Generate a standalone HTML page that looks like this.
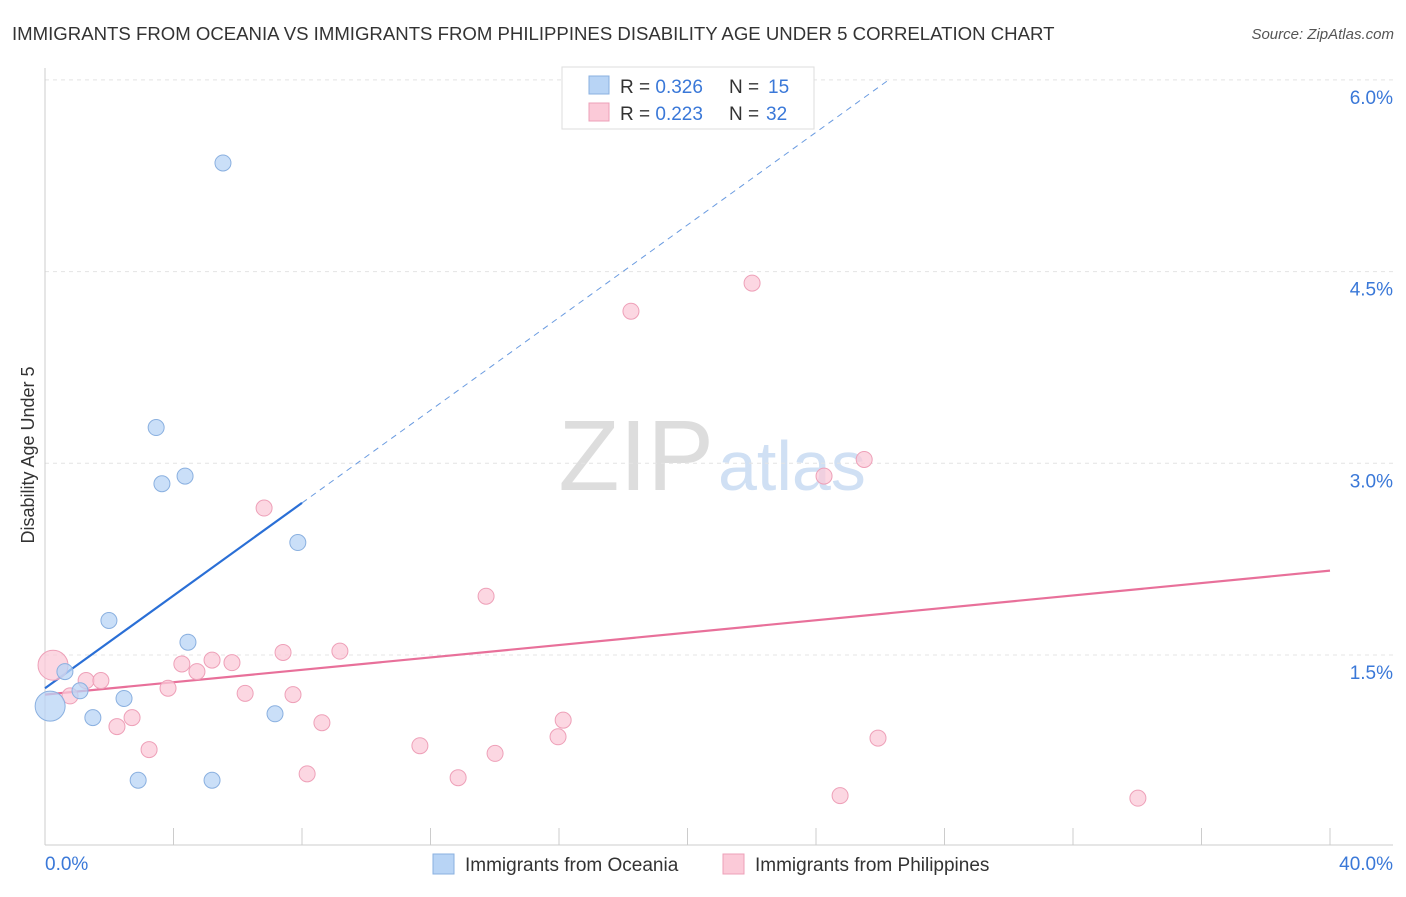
<!DOCTYPE html>
<html><head><meta charset="utf-8"><style>
body{margin:0;background:#fff;font-family:"Liberation Sans",sans-serif}
svg text{font-family:"Liberation Sans",sans-serif}
</style></head><body>
<svg id="c" width="1406" height="892">
<text x="12" y="40" font-size="18.6" fill="#333">IMMIGRANTS FROM OCEANIA VS IMMIGRANTS FROM PHILIPPINES DISABILITY AGE UNDER 5 CORRELATION CHART</text>
<text x="1394" y="39" font-size="15" fill="#555" font-style="italic" text-anchor="end">Source: ZipAtlas.com</text>
<text x="714" y="490" font-size="100" fill="#ddd" text-anchor="end" font-family="Liberation Serif">ZIP</text>
<text x="718" y="490" font-size="70" fill="#d0e0f4">atlas</text>
<text transform="translate(34,455) rotate(-90)" font-size="18" fill="#333" text-anchor="middle">Disability Age Under 5</text>
<g id="grid"></g><g id="marks"></g>
<g>
<rect x="562" y="67" width="252" height="62" fill="#fff" stroke="#ddd"/>
<rect x="589" y="76" width="20" height="18" fill="#b8d4f5" stroke="#8ab0e0"/>
<rect x="589" y="103" width="20" height="18" fill="#fbcad8" stroke="#eea0b8"/>
<text x="620" y="93" font-size="19" fill="#333">R = <tspan fill="#3a78d8">0.326</tspan></text>
<text x="729" y="93" font-size="19" fill="#333">N = <tspan fill="#3a78d8" x="768">15</tspan></text>
<text x="620" y="120" font-size="19" fill="#333">R = <tspan fill="#3a78d8">0.223</tspan></text>
<text x="729" y="120" font-size="19" fill="#333">N = <tspan fill="#3a78d8" x="766">32</tspan></text>
</g>
<g>
<rect x="433" y="854" width="21" height="20" fill="#b8d4f5" stroke="#8ab0e0"/>
<text x="465" y="871" font-size="19" fill="#333">Immigrants from Oceania</text>
<rect x="723" y="854" width="21" height="20" fill="#fbcad8" stroke="#eea0b8"/>
<text x="755" y="871" font-size="19" fill="#333">Immigrants from Philippines</text>
</g>
<text x="45" y="870" font-size="19" fill="#3a78d8">0.0%</text>
<text x="1393" y="870" font-size="19" fill="#3a78d8" text-anchor="end">40.0%</text>
</svg>
<script>
const yTicks=[1.5,3.0,4.5,6.0];
const blueX=[5.54,3.46,3.64,4.36,7.87,1.99,4.45,0.62,1.09,2.46,1.49,7.16,2.90,5.20,0.16];
const blueY=[5.35,3.28,2.84,2.90,2.38,1.77,1.60,1.37,1.22,1.16,1.01,1.04,0.52,0.52,1.10];
const pinkX=[0.25,0.78,1.28,1.74,2.24,2.71,3.24,3.83,4.26,4.73,5.20,5.82,6.23,6.82,7.41,7.72,8.16,8.62,9.18,11.67,12.86,13.73,14.01,15.97,16.13,18.24,22.01,24.25,25.50,24.75,25.93,34.02];
const pinkY=[1.42,1.18,1.30,1.30,0.94,1.01,0.76,1.24,1.43,1.37,1.46,1.44,1.20,2.65,1.52,1.19,0.57,0.97,1.53,0.79,0.54,1.96,0.73,0.86,0.99,4.19,4.41,2.90,3.03,0.40,0.85,0.38];
const blueTrend=[1.24,2.69];
const pinkTrend=[1.19,2.16];
const X=v=>45+v/40*1285, Y=v=>846.7-v/1.5*191.7;
const NS="http://www.w3.org/2000/svg";
function mk(t,a,p){const e=document.createElementNS(NS,t);for(const k in a)e.setAttribute(k,a[k]);p.appendChild(e);return e;}
const g=document.getElementById('grid'), m=document.getElementById('marks');
yTicks.forEach(t=>{
 const l=mk('line',{x1:45,x2:1393,y1:Y(t),y2:Y(t),stroke:'#e4e4e4','stroke-dasharray':'4,4'},g);
 
 
 const tx=mk('text',{x:1393,y:Y(t)+24,'font-size':19,fill:'#3a78d8','text-anchor':'end'},g);
 tx.textContent=t.toFixed(1)+'%';
 
 
});
mk('line',{x1:45,x2:45,y1:68,y2:845,stroke:'#ccc'},g);
mk('line',{x1:45,x2:1393,y1:845,y2:845,stroke:'#ccc'},g);
for(let i=1;i<=10;i++){const t=mk('line',{x1:X(i*4),x2:X(i*4),y1:828,y2:845,stroke:'#ccc'},g);
 
 }
const bs=(blueTrend[1]-blueTrend[0])/8;
const xEnd=(6.0-blueTrend[0])/bs;
mk('line',{x1:X(8),y1:Y(blueTrend[1]),x2:X(xEnd),y2:Y(blueTrend[0]+bs*xEnd),stroke:'#6a9be0','stroke-dasharray':'6,5','stroke-width':1},m);
const bl=mk('line',{x1:X(0),y1:Y(blueTrend[0]),x2:X(8),y2:Y(blueTrend[1]),stroke:'#2a6fd6','stroke-width':2.2},m);


const pl=mk('line',{x1:X(0),y1:Y(pinkTrend[0]),x2:X(40),y2:Y(pinkTrend[1]),stroke:'#e8709a','stroke-width':2.2},m);


pinkX.forEach((x,i)=>{const c=mk('circle',{cx:X(x),cy:Y(pinkY[i]),r:i==0?15:8,fill:'#fbcad8','fill-opacity':0.75,stroke:'#eea0b8'},m);
 
 });
blueX.forEach((x,i)=>{const c=mk('circle',{cx:X(x),cy:Y(blueY[i]),r:i==14?15:8,fill:'#b8d4f5','fill-opacity':0.75,stroke:'#8ab0e0'},m);
 
 });
</script>
</body></html>
